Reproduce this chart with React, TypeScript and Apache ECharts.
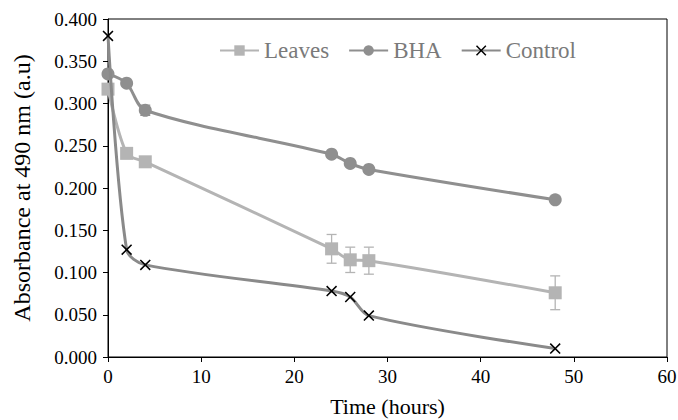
import React, { useEffect, useRef } from "react";
import * as echarts from "echarts";

const times = [0, 2, 4, 24, 26, 28, 48];
const leaves = [0.317, 0.241, 0.231, 0.128, 0.115, 0.114, 0.076];
const leavesErr = [0.0, 0.004, 0.004, 0.017, 0.015, 0.016, 0.02];
const bha = [0.335, 0.324, 0.292, 0.24, 0.229, 0.222, 0.186];
const bhaErr = [0.0, 0.0, 0.006, 0.0, 0.0, 0.0, 0.0];
const control = [0.38, 0.127, 0.109, 0.078, 0.071, 0.049, 0.01];
const seriesNames = ["Leaves", "BHA", "Control"];

const FONT = "'Liberation Serif', 'DejaVu Serif', serif";
const CROSS = "path://M0,1L1,0L5,4L9,0L10,1L6,5L10,9L9,10L5,6L1,10L0,9L4,5Z";

function errSeries(vals: number[], errs: number[], color: string) {
  const data = times.map((t, i) => [t, vals[i] - errs[i], vals[i] + errs[i]]).filter((_, i) => errs[i] > 0);
  return {
    type: "custom",
    silent: true,
    z: 1,
    data,
    renderItem: (params: any, api: any) => {
      const x = api.value(0);
      const lo = api.coord([x, api.value(1)]);
      const hi = api.coord([x, api.value(2)]);
      const w = 5;
      const st = { stroke: color, lineWidth: 1.3 };
      return {
        type: "group",
        children: [
          { type: "line", shape: { x1: lo[0], y1: lo[1], x2: hi[0], y2: hi[1] }, style: st },
          { type: "line", shape: { x1: lo[0] - w, y1: lo[1], x2: lo[0] + w, y2: lo[1] }, style: st },
          { type: "line", shape: { x1: hi[0] - w, y1: hi[1], x2: hi[0] + w, y2: hi[1] }, style: st },
        ],
      };
    },
  };
}

export default function App() {
  const ref = useRef<HTMLDivElement>(null);
  useEffect(() => {
    const chart = echarts.init(ref.current!, null, { renderer: "svg" });
    const pair = (vals: number[]) => times.map((t, i) => [t, vals[i]]);
    chart.setOption({
      animation: false,
      grid: {
        left: 108, right: 11, top: 19, bottom: 63,
        show: true, borderColor: "#000", borderWidth: 1,
        containLabel: false, outerBoundsMode: "none",
      },
      legend: {
        data: seriesNames,
        left: 214,
        top: 34,
        itemWidth: 39,
        itemHeight: 13,
        itemGap: 19,
        textStyle: { fontFamily: FONT, fontSize: 23, color: "#7a7a7a" },
      },
      xAxis: {
        type: "value",
        min: 0,
        max: 60,
        interval: 10,
        name: "Time (hours)",
        nameLocation: "middle",
        nameGap: 38,
        nameTextStyle: { fontFamily: FONT, fontSize: 22, color: "#000" },
        axisLine: { lineStyle: { color: "#000", width: 1 } },
        axisTick: { show: true, length: 5, lineStyle: { color: "#000" } },
        axisLabel: { fontFamily: FONT, fontSize: 19, color: "#000", margin: 10 },
        splitLine: { show: false },
      },
      yAxis: {
        type: "value",
        min: 0,
        max: 0.4,
        interval: 0.05,
        name: "Absorbance at 490 nm (a.u)",
        nameLocation: "middle",
        nameGap: 74,
        nameTextStyle: { fontFamily: FONT, fontSize: 24, color: "#000" },
        axisLine: { show: true, lineStyle: { color: "#000", width: 1 } },
        axisTick: { show: true, length: 5, lineStyle: { color: "#000" } },
        axisLabel: { fontFamily: FONT, fontSize: 19, color: "#000", margin: 11, formatter: (v: number) => v.toFixed(3) },
        splitLine: { show: false },
      },
      series: [
        errSeries(leaves, leavesErr, "#b4b4b4"),
        errSeries(bha, bhaErr, "#8f8f8f"),
        {
          name: "Leaves",
          type: "line",
          data: pair(leaves),
          smooth: 0.3,
          symbol: "rect",
          symbolSize: 13,
          lineStyle: { color: "#b4b4b4", width: 3 },
          itemStyle: { color: "#b4b4b4" },
          z: 2,
        },
        {
          name: "BHA",
          type: "line",
          data: pair(bha),
          smooth: 0.3,
          symbol: "circle",
          symbolSize: 13,
          lineStyle: { color: "#8f8f8f", width: 3 },
          itemStyle: { color: "#8f8f8f" },
          z: 3,
        },
        {
          name: "Control",
          type: "line",
          data: pair(control),
          smooth: 0.3,
          symbol: CROSS,
          symbolSize: 11,
          lineStyle: { color: "#8a8a8a", width: 3 },
          itemStyle: { color: "#000" },
          z: 4,
        },
      ],
    });
    return () => chart.dispose();
  }, []);
  return <div ref={ref} style={{ width: 678, height: 420, position: "absolute", left: 0, top: 0 }} />;
}
